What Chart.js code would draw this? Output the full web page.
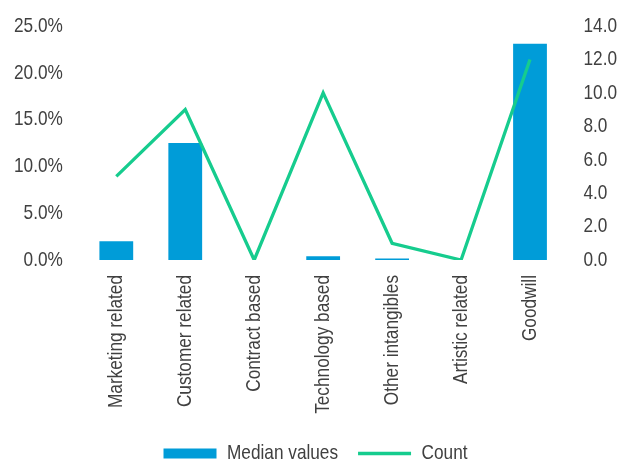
<!DOCTYPE html>
<html>
<head>
<meta charset="utf-8">
<script src="https://cdn.jsdelivr.net/npm/chart.js@4/dist/chart.umd.min.js"></script>
<style>
  html, body { margin: 0; padding: 0; background: #fff; }
  #wrap { width: 620px; height: 468px; }
</style>
</head>
<body>
<div id="wrap"><canvas id="grafica"></canvas></div>
<script>
// datos
const categories = ['Marketing related', 'Customer related', 'Contract based', 'Technology based', 'Other intangibles', 'Artistic related', 'Goodwill'];
const medianValues = [2.0, 12.5, 0, 0.4, 0.15, 0, 23.1];
const counts = [5, 9, 0, 10, 1, 0, 12];
const leftTicks = [0, 5, 10, 15, 20, 25];
const rightTicks = [0, 2, 4, 6, 8, 10, 12, 14];

const fuente = { family: "'Liberation Sans', Arial, sans-serif", size: 21 };
const textColor = '#404040';

// no hay Arial Narrow instalada: se estrecha el texto horizontalmente
const ESTRECHO = 0.82;
const proto = CanvasRenderingContext2D.prototype;
const fillOrig = proto.fillText;
const measureOrig = proto.measureText;
proto.fillText = function (t, x, y) {
    this.save();
    this.translate(x, y);
    this.scale(ESTRECHO, 1);
    fillOrig.call(this, t, 0, 0);
    this.restore();
};
proto.measureText = function (t) {
    const m = measureOrig.call(this, t);
    return {
        width: m.width * ESTRECHO,
        actualBoundingBoxAscent: m.actualBoundingBoxAscent,
        actualBoundingBoxDescent: m.actualBoundingBoxDescent,
        actualBoundingBoxLeft: m.actualBoundingBoxLeft * ESTRECHO,
        actualBoundingBoxRight: m.actualBoundingBoxRight * ESTRECHO
    };
};

// sin relleno extra arriba por la media altura de la etiqueta
const sinRellenoVertical = axis => { axis.paddingTop = 0; axis.paddingBottom = 0; };

window.onload = function () {
    new Chart(document.getElementById('grafica'), {
        type: 'bar',
        data: {
            labels: categories,
            datasets: [{
                label: 'Median values',
                data: medianValues,
                backgroundColor: '#009cd8',
                yAxisID: 'y',
                barPercentage: 0.49,
                categoryPercentage: 1,
                order: 2,
                pointStyle: 'rect'
            }, {
                type: 'line',
                label: 'Count',
                data: counts,
                borderColor: '#16cc8e',
                backgroundColor: '#16cc8e',
                borderWidth: 3.3,
                pointRadius: 0,
                tension: 0,
                yAxisID: 'y1',
                order: 1,
                pointStyle: 'line'
            }]
        },
        options: {
            responsive: true,
            maintainAspectRatio: false,
            animation: false,
            layout: { padding: { left: -5, right: -16, top: 26, bottom: -6 } },
            plugins: {
                legend: {
                    position: 'bottom',
                    labels: {
                        font: fuente,
                        color: textColor,
                        usePointStyle: true,
                        pointStyleWidth: 53,
                        boxHeight: 10,
                        padding: 20,
                        sort: (a, b) => a.datasetIndex - b.datasetIndex
                    }
                },
                tooltip: { enabled: false }
            },
            scales: {
                x: {
                    grid: { display: false, drawTicks: false },
                    border: { display: false },
                    afterFit: axis => { axis.height = 163; },
                    ticks: { font: fuente, color: textColor, minRotation: 90, maxRotation: 90, padding: 15, autoSkip: false }
                },
                y: {
                    position: 'left',
                    min: 0,
                    max: 25,
                    afterBuildTicks: axis => { axis.ticks = leftTicks.map(v => ({ value: v })); },
                    afterFit: sinRellenoVertical,
                    grid: { display: false, drawTicks: false },
                    border: { display: false },
                    ticks: { font: fuente, color: textColor, padding: 19, callback: v => v.toFixed(1) + '%' }
                },
                y1: {
                    position: 'right',
                    min: 0,
                    max: 14,
                    afterBuildTicks: axis => { axis.ticks = rightTicks.map(v => ({ value: v })); },
                    afterFit: sinRellenoVertical,
                    grid: { display: false, drawTicks: false },
                    border: { display: false },
                    ticks: { font: fuente, color: textColor, padding: 19, callback: v => v.toFixed(1) }
                }
            }
        }
    });
}
</script>
</body>
</html>
